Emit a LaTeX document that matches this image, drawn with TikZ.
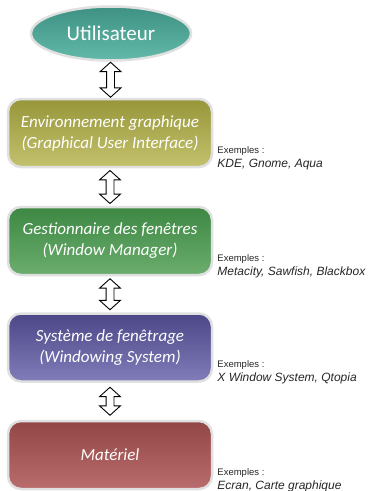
\documentclass[tikz,border=0pt]{standalone}
\usepackage{fontspec}
\newfontfamily\layerfont{Carlito}
\newfontfamily\exfont{Liberation Sans}
\usepackage{tikz}
\usetikzlibrary{shapes.geometric}
\usetikzlibrary{shapes.arrows}
\usetikzlibrary{positioning}

\definecolor{TealTop}{HTML}{3E9183}
\definecolor{TealBot}{HTML}{62B9A9}
\definecolor{OliveTop}{HTML}{97963A}
\definecolor{OliveBot}{HTML}{C3C16C}
\definecolor{GreenTop}{HTML}{3D8743}
\definecolor{GreenBot}{HTML}{6BAD6D}
\definecolor{PurpleTop}{HTML}{4C4787}
\definecolor{PurpleBot}{HTML}{807DB9}
\definecolor{RedTop}{HTML}{934646}
\definecolor{RedBot}{HTML}{B96C6C}

\tikzset{
    layer/.style={rectangle, rounded corners=13pt, draw=black!12, line width=2.5pt,
        minimum width=204pt, minimum height=68pt, text=white, align=center,
        font=\layerfont\itshape\fontsize{17}{21}\selectfont},
    updown/.style={double arrow, draw=black, line width=0.9pt, fill=white,
        shape border rotate=90, inner sep=3.5pt, double arrow head extend=6.5pt,
        double arrow tip angle=96},
    exhead/.style={anchor=base west, inner sep=0pt, text=black!85,
        font=\exfont\fontsize{9.5}{11}\selectfont},
    exlist/.style={anchor=base west, inner sep=0pt, text=black!85,
        font=\exfont\itshape\fontsize{12}{14}\selectfont},
}

\begin{document}
\begin{tikzpicture}
            \useasboundingbox (0,0) rectangle (374pt,-491pt);

            % Utilisateur
            \node (user) at (111pt,-33.5pt) [ellipse, draw=black!12, line width=2.5pt,
                minimum width=160pt, minimum height=54pt, top color=TealTop, bottom color=TealBot,
                text=white, font=\layerfont\fontsize{21}{25}\selectfont] {Utilisateur};

            % Layers
            \node (gui) at (110pt,-133pt) [layer, top color=OliveTop, bottom color=OliveBot]
                {Environnement graphique\\(Graphical User Interface)};
            \node (wm) at (110pt,-241pt) [layer, top color=GreenTop, bottom color=GreenBot]
                {Gestionnaire des fenêtres\\(Window Manager)};
            \node (ws) at (110pt,-347.5pt) [layer, top color=PurpleTop, bottom color=PurpleBot]
                {Système de fenêtrage\\(Windowing System)};
            \node (hw) at (110pt,-455pt) [layer, top color=RedTop, bottom color=RedBot]
                {\raisebox{-10pt}{Matériel}};

            % Double arrows between layers
            \foreach \a/\b/\len in {user/gui/35, gui/wm/33, wm/ws/31, ws/hw/28}
                \path (\a) -- (\b) node[midway, updown, minimum height=\len pt] (\a-\b) {};

            % Exemples
            \foreach \b/\list in {gui/{KDE, Gnome, Aqua}, wm/{Metacity, Sawfish, Blackbox},
                    ws/{X Window System, Qtopia}, hw/{Ecran, Carte graphique}}
            {
                \node (\b-ex) at ([shift={(4pt,15pt)}]\b.south east) [exhead] {Exemples :};
                \node (\b-list) at ([yshift=-14pt]\b-ex.base west) [exlist] {\list};
            }
\end{tikzpicture}
\end{document}
